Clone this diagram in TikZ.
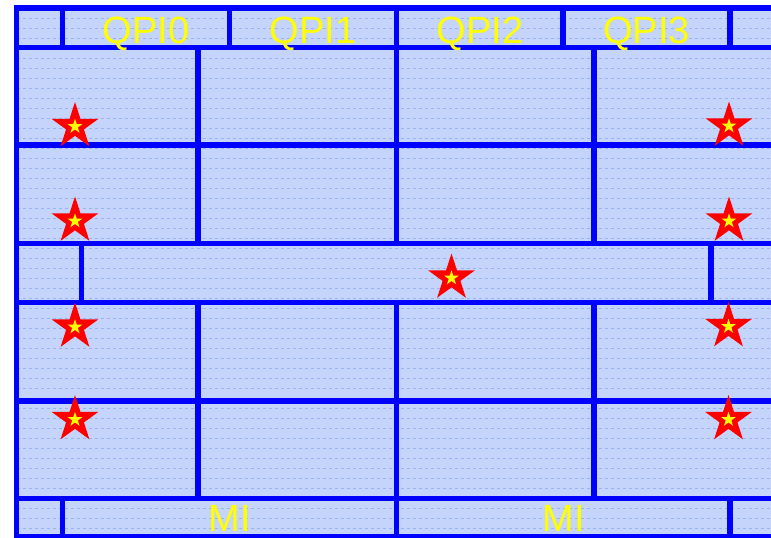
\documentclass[tikz,border=0pt]{standalone}
\usepackage{fontspec}
\setmainfont{Liberation Sans}
\usetikzlibrary{shapes.geometric}
\definecolor{cellfill}{RGB}{196,212,250}
\definecolor{hatch}{RGB}{155,180,240}
\definecolor{gridblue}{RGB}{0,0,255}
\definecolor{labelyellow}{RGB}{255,255,0}
\tikzset{
  gridline/.style={draw=gridblue, line width=5.2pt},
  hatchline/.style={draw=hatch, line width=0.8pt, dash pattern=on 3pt off 3pt},
  lbl/.style={text=labelyellow, font=\fontsize{38}{40}\selectfont, inner sep=0pt, anchor=base},
  bigstar/.style={star, star points=5, star point ratio=2.618, minimum size=49pt, inner sep=0pt, fill=red, draw=none},
  smallstar/.style={star, star points=5, star point ratio=2.618, minimum size=15.5pt, inner sep=0pt, fill=labelyellow, draw=none}
}
\begin{document}
\begin{tikzpicture}[x=1pt,y=-1pt]
\useasboundingbox (0,0) rectangle (771,538);
\fill[white] (0,0) rectangle (771,538);
% cell background
\fill[cellfill] (16.5,8) rectangle (771,536.5);
\foreach \yy in {18.5,28.5,...,528.5} {
  \draw[hatchline] (16.5,\yy) -- (771,\yy);
}
% outer borders
\draw[gridblue, line width=5.2pt] (16.5,5) -- (16.5,538);
\draw[gridblue, line width=6pt] (14,8) -- (771,8);
\draw[gridblue, line width=5.2pt] (14,536.5) -- (771,536.5);
% horizontal lines
\foreach \yy in {47.5,145,243.5,302.5,401,498.5} {
  \draw[gridline] (16.5,\yy) -- (771,\yy);
}
% top row verticals
\foreach \xx in {62.5,229.5,396.5,563,730} {
  \draw[gridline] (\xx,8) -- (\xx,47.5);
}
% main row verticals
\foreach \xx in {198,396.5,594} {
  \draw[gridline] (\xx,47.5) -- (\xx,243.5);
  \draw[gridline] (\xx,302.5) -- (\xx,498.5);
}
% middle row verticals
\foreach \xx in {81.5,711} {
  \draw[gridline] (\xx,243.5) -- (\xx,302.5);
}
% bottom row verticals
\foreach \xx in {62.5,396.5,730} {
  \draw[gridline] (\xx,498.5) -- (\xx,536.5);
}
% labels
\node[lbl] (q0) at (146,43) {QPI0};
\node[lbl] (q1) at (313,43) {QPI1};
\node[lbl] (q2) at (480,43) {QPI2};
\node[lbl] (q3) at (646.5,43) {QPI3};
\node[lbl] (mi1) at (229.5,531) {MI};
\node[lbl] (mi2) at (563.5,531) {MI};
% stars
\foreach \nm/\sx/\sy in {s1/75/126.5, s2/729/126, s3/75/221, s4/729/221, s5/451.5/278, s6/75/327, s7/728.5/326.5, s8/75/419.5, s9/728.5/419.5} {
  \node[bigstar] (\nm) at (\sx,\sy) {};
  \node[smallstar] (\nm y) at (\sx,\sy) {};
}
\end{tikzpicture}
\end{document}
